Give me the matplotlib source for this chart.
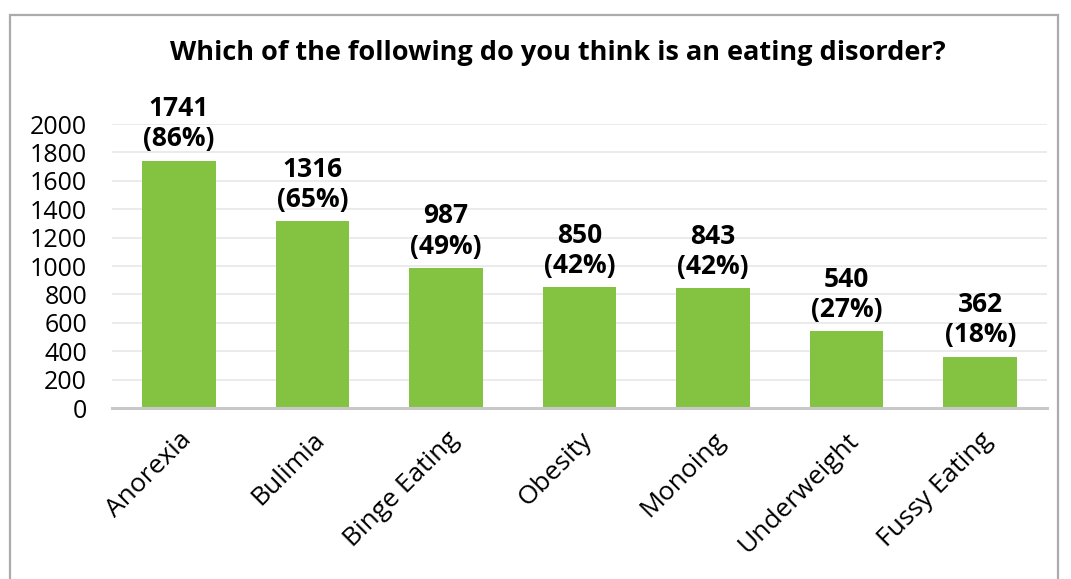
import matplotlib.pyplot as plt
from matplotlib.patches import Rectangle

categories = ["Anorexia", "Bulimia", "Binge Eating", "Obesity", "Monoing",
              "Underweight", "Fussy Eating"]
counts = [1741, 1316, 987, 850, 843, 540, 362]
percents = [86, 65, 49, 42, 42, 27, 18]
yticks = list(range(0, 2001, 200))

plt.rcParams["font.family"] = ["Open Sans", "DejaVu Sans"]

fig = plt.figure(figsize=(10.71, 5.79), dpi=100)
ax = fig.add_axes([0.1046, 0.2953, 0.873, 0.4905])

x = range(len(categories))
ax.bar(x, counts, width=0.55, color="#83C341", zorder=2)
for i, (c, p) in enumerate(zip(counts, percents)):
    ax.annotate(f"{c}\n({p}%)", (i, c), xytext=(0, 6), textcoords="offset points",
                ha="center", va="bottom", fontsize=19, fontweight="bold",
                linespacing=1.15, annotation_clip=False)

ax.set_xlim(-0.5, len(categories) - 0.5)
ax.set_ylim(0, 2000)
ax.set_yticks(yticks)
ax.set_yticklabels([str(t) for t in yticks], fontsize=18)
ax.set_xticks(list(x))
ax.set_xticklabels(categories, rotation=45, ha="right", rotation_mode="anchor", fontsize=19)
ax.tick_params(axis="both", length=0)
ax.tick_params(axis="y", pad=18)
ax.tick_params(axis="x", pad=14)
ax.grid(axis="y", color="#E8E8E8", lw=1.2, zorder=0)
for s in ["top", "right", "left"]:
    ax.spines[s].set_visible(False)
ax.spines["bottom"].set_color("#C8C8C8")
ax.spines["bottom"].set_linewidth(2.2)
ax.spines["bottom"].set_zorder(3)

fig.text(0.521, 0.908, "Which of the following do you think is an eating disorder?",
         ha="center", va="center", fontsize=19.5, fontweight="bold")

fig.patches.append(Rectangle((10 / 1071, -0.1), 1048 / 1071, 1.1 - 15 / 579,
                             transform=fig.transFigure, fill=False,
                             edgecolor="#ABABAB", lw=1.6))

fig.savefig("out.png", dpi=100)
